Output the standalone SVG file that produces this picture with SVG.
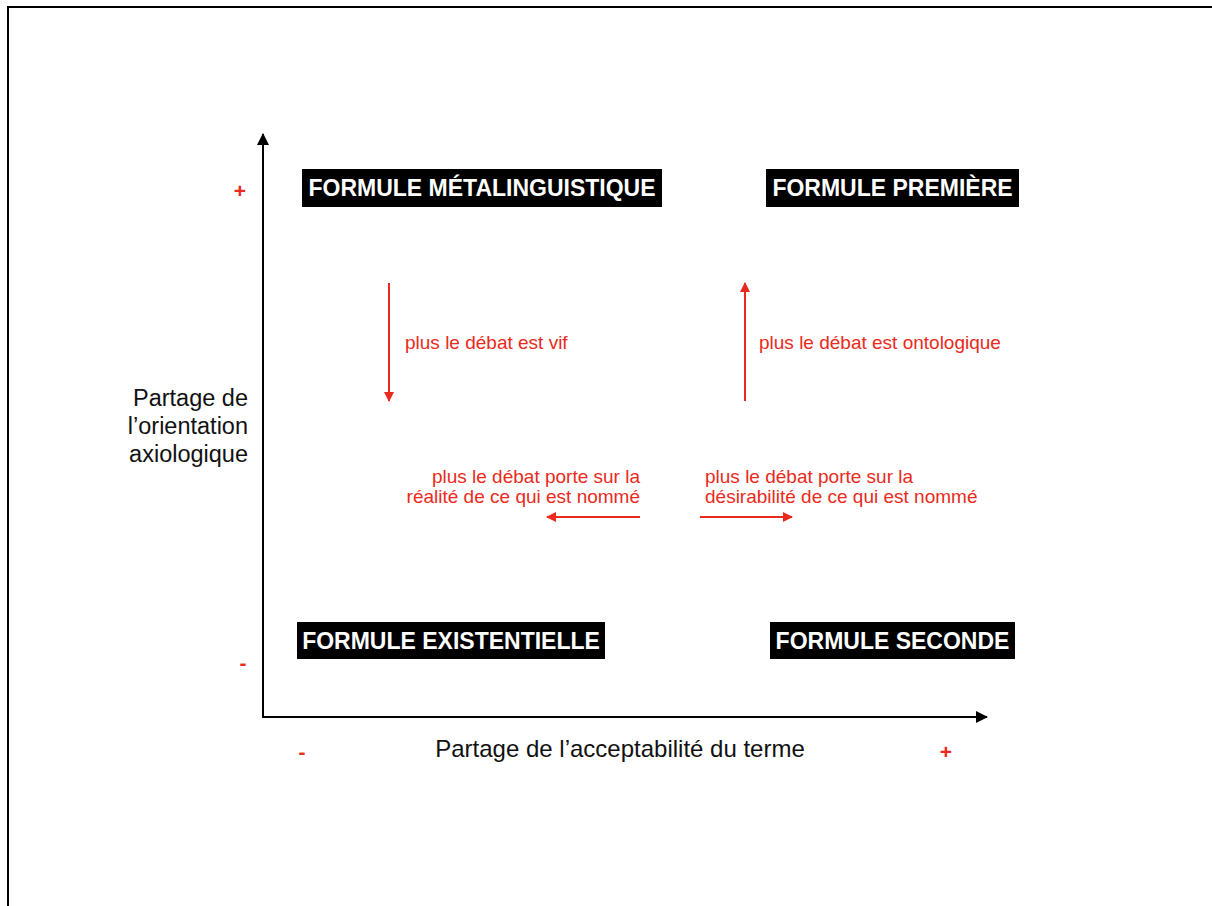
<svg xmlns="http://www.w3.org/2000/svg" width="1212" height="906" viewBox="0 0 1212 906">
<style>
.title{font-family:"Liberation Sans",Arial,sans-serif;font-weight:bold;font-size:23px;fill:#fff;text-anchor:middle}
.box{fill:#000}
.axis{font-family:"Liberation Sans",Arial,sans-serif;font-size:23.5px;fill:#111}
.red{font-family:"Liberation Sans",Arial,sans-serif;font-size:19px;fill:#ea2a1c}
.sign{font-family:"Liberation Sans",Arial,sans-serif;font-weight:bold;font-size:21px;fill:#ea2a1c;text-anchor:middle}
.ax{stroke:#000;stroke-width:2;fill:none}
.rl{stroke:#ea2a1c;stroke-width:2;fill:none}
</style>
<defs>
<marker id="ahb" markerWidth="12" markerHeight="12" refX="11" refY="6" orient="auto" markerUnits="userSpaceOnUse">
<path d="M0,0 L12,6 L0,12 Z" fill="#000"/>
</marker>
<marker id="ahr" markerWidth="10" markerHeight="10" refX="9" refY="5" orient="auto" markerUnits="userSpaceOnUse">
<path d="M0,0 L10,5 L0,10 Z" fill="#ea2a1c"/>
</marker>
</defs>
<rect width="1212" height="906" fill="#fff"/>
<g id="frame">
<line x1="7" y1="7" x2="1212" y2="7" stroke="#000" stroke-width="2"/>
<line x1="8" y1="6" x2="8" y2="906" stroke="#000" stroke-width="2"/>
</g>
<g id="connectors">
<line class="ax" x1="263" y1="718" x2="263" y2="134" marker-end="url(#ahb)"/>
<line class="ax" x1="262" y1="717" x2="987" y2="717" marker-end="url(#ahb)"/>
<line class="rl" x1="389" y1="283" x2="389" y2="401" marker-end="url(#ahr)"/>
<line class="rl" x1="745" y1="401" x2="745" y2="283" marker-end="url(#ahr)"/>
<line class="rl" x1="640" y1="517" x2="547" y2="517" marker-end="url(#ahr)"/>
<line class="rl" x1="700" y1="517" x2="792" y2="517" marker-end="url(#ahr)"/>
</g>
<g id="metalinguistique">
<rect class="box" x="302" y="169" width="360" height="38"/>
<text class="title" x="482" y="196">FORMULE MÉTALINGUISTIQUE</text>
</g>
<g id="premiere">
<rect class="box" x="766" y="169" width="253" height="38"/>
<text class="title" x="892.5" y="196">FORMULE PREMIÈRE</text>
</g>
<g id="existentielle">
<rect class="box" x="297" y="622" width="308" height="37"/>
<text class="title" x="451" y="649">FORMULE EXISTENTIELLE</text>
</g>
<g id="seconde">
<rect class="box" x="770" y="622" width="245" height="37"/>
<text class="title" x="892.5" y="649">FORMULE SECONDE</text>
</g>
<g id="labels">
<text class="red" x="405" y="349">plus le débat est vif</text>
<text class="red" x="759" y="349">plus le débat est ontologique</text>
<text class="red" x="640" y="483" text-anchor="end">plus le débat porte sur la</text>
<text class="red" x="640" y="503" text-anchor="end">réalité de ce qui est nommé</text>
<text class="red" x="705" y="483">plus le débat porte sur la</text>
<text class="red" x="705" y="503">désirabilité de ce qui est nommé</text>
</g>
<g id="axis-labels">
<text class="axis" x="248" y="406" text-anchor="end">Partage de</text>
<text class="axis" x="248" y="434" text-anchor="end">l’orientation</text>
<text class="axis" x="248" y="462" text-anchor="end">axiologique</text>
<text class="axis" x="620" y="757" text-anchor="middle" style="font-size:24px">Partage de l’acceptabilité du terme</text>
<text class="sign" x="240" y="198">+</text>
<text class="sign" x="243" y="670">-</text>
<text class="sign" x="302" y="759">-</text>
<text class="sign" x="946" y="759">+</text>
</g>
</svg>
